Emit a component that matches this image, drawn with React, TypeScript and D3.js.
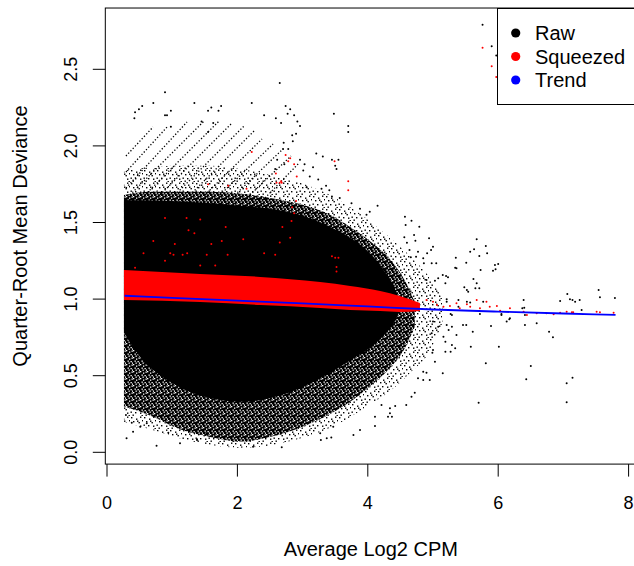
import React from 'react';
import * as d3 from 'd3';

// ---------- axis ticks ----------
const xTicks = [0, 2, 4, 6, 8];
const xTickLabels = ['0', '2', '4', '6', '8'];
const yTicks = [0, 0.5, 1, 1.5, 2, 2.5];
const yTickLabels = ['0.0', '0.5', '1.0', '1.5', '2.0', '2.5'];
const xLim = [-0.026, 8.12];
const yLim = [-0.077, 2.9];

// ---------- raw deviance cloud (too dense to list point by point: envelopes) ----------
const coreX = [0.26, 0.51, 0.97, 1.43, 2.04, 2.65, 2.96, 3.42, 3.73, 4.03, 4.26, 4.42, 4.5];
const coreTop = [1.647, 1.645, 1.64, 1.63, 1.61, 1.58, 1.55, 1.47, 1.4, 1.3, 1.18, 1.06, 0.96];
const coreBot = [0.78, 0.62, 0.46, 0.37, 0.33, 0.37, 0.42, 0.52, 0.6, 0.68, 0.77, 0.86, 0.93];

const innerX = [0.26, 0.66, 1.12, 1.58, 2.04, 2.5, 2.96, 3.42, 3.73, 4.03, 4.34, 4.57, 4.72];
const innerTop = [1.68, 1.7, 1.7, 1.7, 1.69, 1.66, 1.62, 1.55, 1.47, 1.38, 1.26, 1.12, 0.98];
const innerBot = [0.3, 0.24, 0.15, 0.1, 0.07, 0.1, 0.16, 0.25, 0.33, 0.43, 0.55, 0.68, 0.82];

const outerX = [0.26, 0.66, 1.12, 1.58, 2.04, 2.5, 2.96, 3.42, 3.73, 4.03, 4.34, 4.65, 4.95, 5.15];
const outerTop = [1.84, 1.86, 1.87, 1.87, 1.85, 1.81, 1.76, 1.68, 1.6, 1.51, 1.4, 1.28, 1.14, 1.0];
const outerBot = [0.2, 0.15, 0.09, 0.05, 0.03, 0.045, 0.09, 0.16, 0.23, 0.31, 0.4, 0.52, 0.66, 0.85];

// discrete-count streaks in the upper-left: [x0, y0, x1, y1]
const streaks: [number, number, number, number][] = [
  [0.291, 1.934, 0.706, 2.123],
  [0.291, 1.83, 0.936, 2.13],
  [0.291, 1.725, 1.227, 2.156],
  [0.353, 1.68, 1.488, 2.162],
  [0.583, 1.68, 1.718, 2.162],
  [0.813, 1.68, 1.917, 2.149],
  [1.043, 1.68, 2.117, 2.136],
  [1.273, 1.68, 2.255, 2.097],
  [1.503, 1.68, 2.377, 2.045],
  [1.733, 1.68, 2.546, 2.012],
  [1.963, 1.68, 2.699, 1.98],
  [2.193, 1.68, 2.822, 1.934],
  [2.423, 1.66, 2.945, 1.888],
];

// individually visible raw points
const rawPoints: [number, number][] = [
  [0.89, 2.35], [0.71, 2.28], [0.54, 2.26], [0.49, 2.24], [0.43, 2.22], [0.42, 2.18], [0.89, 2.2], [0.98, 2.23],
  [0.92, 2.2], [0.98, 2.125], [1.34, 2.28], [1.45, 2.16], [1.55, 2.23], [1.6, 2.25], [1.63, 2.15], [1.55, 2.09],
  [1.75, 2.26], [1.71, 2.23], [2.22, 2.28], [2.41, 2.2], [2.65, 2.41], [2.74, 2.26], [2.81, 2.24], [2.77, 2.21],
  [2.59, 2.18], [2.67, 2.15], [2.87, 2.2], [2.92, 2.16], [2.96, 2.13], [3.48, 2.21], [3.7, 2.13], [3.7, 2.09],
  [2.9, 2.08], [2.84, 2.07], [2.85, 2.03], [2.71, 2.02], [3.21, 1.95], [3.31, 1.93], [3.45, 1.91], [3.55, 1.91],
  [3.5, 1.87], [3.52, 1.85], [3.03, 1.88], [3.36, 1.74], [3.41, 1.71], [3.88, 1.59], [4.15, 1.61], [3.24, 1.78],
  [3.11, 1.8], [2.61, 1.91], [2.72, 1.88], [2.58, 1.85], [2.7, 1.98], [2.78, 1.98], [3.01, 1.84], [3.16, 1.86],
  [2.96, 1.91], [3.06, 1.73], [3.29, 1.72], [3.45, 1.67], [3.57, 1.66], [3.75, 1.625], [3.98, 1.55], [4.03, 1.57],
  [5.76, 2.79], [5.9, 2.65], [5.97, 2.59],
  [4.57, 1.538], [4.67, 1.512], [4.58, 1.484], [4.79, 1.473], [4.71, 1.418], [4.73, 1.381], [4.94, 1.397], [4.56, 1.403],
  [4.6, 1.368], [5.0, 1.342], [4.97, 1.32], [4.91, 1.299], [4.77, 1.309], [4.85, 1.266], [4.64, 1.32], [4.66, 1.273],
  [4.74, 1.277], [5.05, 1.234], [4.98, 1.234], [4.86, 1.234], [5.67, 1.39], [5.81, 1.347], [5.83, 1.299], [5.71, 1.281],
  [5.63, 1.325], [5.57, 1.309], [5.35, 1.27], [5.51, 1.238], [5.95, 1.223], [6.0, 1.229], [5.96, 1.195], [5.92, 1.185],
  [5.73, 1.19], [5.34, 1.205], [5.36, 1.201], [5.15, 1.157], [5.2, 1.151], [5.08, 1.136], [5.03, 1.12], [4.9, 1.125],
  [5.23, 1.142], [5.19, 1.103], [5.62, 1.131], [5.67, 1.103], [5.65, 1.071], [5.71, 1.071], [5.52, 1.059], [5.54, 1.048],
  [5.48, 1.077], [5.39, 0.994], [5.21, 0.999], [5.21, 0.983], [5.52, 0.983], [5.57, 0.977], [5.77, 0.983], [6.39, 0.994],
  [6.95, 0.988], [7.06, 1.033], [7.1, 0.999], [7.14, 0.994], [7.18, 0.983], [7.25, 0.994], [7.54, 1.059], [7.56, 1.012],
  [7.79, 1.007], [7.28, 0.929], [5.39, 0.95], [5.29, 0.896], [6.4, 0.944], [6.05, 0.903], [6.18, 0.875], [6.37, 0.94],
  [5.0, 0.853], [5.08, 0.82], [4.98, 0.777], [5.21, 0.831], [5.29, 0.82], [5.36, 0.766], [5.24, 0.798], [5.16, 0.755],
  [5.19, 0.722], [5.29, 0.7], [5.34, 0.679], [5.27, 0.657], [5.19, 0.657], [5.0, 0.668], [4.99, 0.65], [5.03, 0.591],
  [5.46, 0.831], [5.51, 0.831], [5.61, 0.787], [5.58, 0.689], [5.89, 0.824], [6.01, 0.689], [5.81, 0.581], [6.13, 0.853],
  [6.17, 0.868], [6.41, 0.831], [6.59, 0.842], [6.78, 0.787], [6.84, 0.751], [6.5, 0.563], [6.43, 0.477], [5.7, 0.324],
  [7.05, 0.45], [7.14, 0.487], [7.05, 0.326], [5.15, 0.516], [4.85, 0.526], [4.9, 0.52], [4.95, 0.472], [4.77, 0.483],
  [4.72, 0.389], [4.59, 0.309], [4.34, 0.255], [4.31, 0.232], [4.42, 0.302], [4.67, 0.363], [4.85, 0.472], [5.27, 0.903],
  [5.72, 0.903], [6.05, 0.896], [6.41, 0.896],
  [2.68, 0.033], [2.24, 0.037], [1.53, 0.124], [3.27, 0.124], [3.37, 0.091], [3.78, 0.113], [3.88, 0.146], [4.11, 0.232],
  [4.21, 0.309], [4.34, 0.287], [4.37, 0.232], [3.47, 0.167], [0.3, 0.091], [0.76, 0.043], [1.12, 0.059], [0.4, 0.134],
  [0.51, 0.167], [0.29, 0.243], [0.38, 0.193], [0.61, 0.189], [0.94, 0.128], [1.38, 0.085], [1.38, 0.08], [3.28, 0.08],
  [3.44, 0.097], [4.11, 0.172],
];

// ---------- squeezed dispersions ----------
const sqzX = [0.26, 1.43, 2.35, 3.27, 3.73, 4.19, 4.49, 4.8];
const sqzTop = [1.19, 1.164, 1.145, 1.112, 1.086, 1.053, 1.02, 0.975];
const sqzBot = [0.994, 0.981, 0.961, 0.942, 0.929, 0.922, 0.916, 0.922];

const sqzPoints: [number, number][] = [
  [5.76, 2.64], [5.9, 2.52], [5.97, 2.45],
  [3.49, 1.9], [3.7, 1.77], [3.7, 1.71], [2.74, 1.94], [2.81, 1.92], [2.78, 1.9], [2.87, 1.88], [2.59, 1.82],
  [2.65, 1.76], [2.67, 1.77], [2.91, 1.8], [2.9, 1.64], [2.84, 1.6],
  [0.89, 1.53], [1.22, 1.53], [1.82, 1.47], [1.43, 1.52], [0.71, 1.38], [1.04, 1.36], [1.6, 1.36], [2.09, 1.39],
  [2.65, 1.37], [2.81, 1.4], [1.25, 1.45], [1.34, 1.43], [1.76, 1.38], [2.22, 1.96], [1.55, 1.75], [1.86, 1.74],
  [2.14, 1.72], [2.6, 1.76], [2.68, 1.76], [0.97, 1.3], [1.23, 1.3], [1.53, 1.29], [1.85, 1.29], [2.41, 1.3],
  [2.58, 1.29], [3.45, 1.28], [3.55, 1.27], [2.83, 1.51], [2.87, 1.56], [2.69, 1.47],
  [0.43, 1.205], [0.89, 1.25], [1.02, 1.29], [1.16, 1.29], [1.43, 1.22], [0.56, 1.3], [1.66, 1.22],
  [3.5, 1.27], [3.52, 1.21], [3.52, 1.18],
  [4.9, 0.994], [5.0, 0.983], [5.06, 0.961], [5.16, 0.95], [5.26, 0.955], [5.36, 0.973], [5.41, 0.94], [5.52, 0.966],
  [5.57, 0.95], [5.67, 0.994], [5.72, 0.94], [5.82, 0.983], [5.87, 0.95], [5.98, 0.955], [6.03, 0.924], [6.18, 0.94],
  [6.39, 0.918], [6.44, 0.896], [6.59, 0.907], [6.74, 0.907], [6.85, 0.901], [6.95, 0.911], [7.05, 0.918], [7.13, 0.914],
  [7.15, 0.914], [7.51, 0.918], [7.56, 0.914], [7.77, 0.911],
];

// ---------- trend ----------
const trendX = [0.27, 1.0, 2.0, 3.0, 4.0, 5.0, 6.0, 7.0, 7.8];
const trendY = [1.022, 1.008, 0.99, 0.972, 0.952, 0.932, 0.918, 0.906, 0.897];

// ---------- legend ----------
const legendLabels = ['Raw', 'Squeezed', 'Trend'];
const legendColors = ['#000000', '#ff0000', '#0000ff'];

const FONT = '"Liberation Sans", Arial, Helvetica, sans-serif';

export default function App() {
  const W = 634;
  const H = 566;
  const x = d3.scaleLinear().domain([0, 8]).range([107, 628.6]);
  const y = d3.scaleLinear().domain([0, 2.5]).range([452.3, 69.3]);

  type Row = { x: number; lo: number; hi: number };
  const band = (xs: number[], hi: number[], lo: number[]): Row[] =>
    xs.map((v, i) => ({ x: v, lo: lo[i], hi: hi[i] }));
  const area = d3
    .area<Row>()
    .x((d) => x(d.x))
    .y0((d) => y(d.lo))
    .y1((d) => y(d.hi))
    .curve(d3.curveMonotoneX);

  const trendLine = d3
    .line<number>()
    .x((d) => x(d))
    .y((_, i) => y(trendY[i]))
    .curve(d3.curveMonotoneX);

  const bx0 = x(xLim[0]);
  const bx1 = x(xLim[1]);
  const by0 = y(yLim[1]);
  const by1 = y(yLim[0]);

  // texture tiles (styling only)
  const sparseDots = [
    [1, 1], [6, 2.5], [10, 0.5], [3, 5], [8.5, 6], [12, 4], [0.5, 8.5], [5, 9], [10, 9.5], [7, 4.5], [2.5, 11.5], [11.5, 12],
  ];
  const whiteHoles = [
    [0, 0], [3, 1.5], [5.5, 0.5], [1.5, 3.5], [4.5, 4], [2.5, 5.5], [6, 5.5],
  ];

  return (
    <svg
      width={W}
      height={H}
      style={{ position: 'absolute', left: 0, top: 0, display: 'block', background: '#fff' }}
      fontFamily={FONT}
    >
      <defs>
        <pattern id="sparse" width={13} height={13} patternUnits="userSpaceOnUse">
          {sparseDots.map((d, i) => (
            <rect key={i} x={d[0]} y={d[1]} width={1.4} height={1.4} fill="#000" />
          ))}
        </pattern>
        <pattern id="dense" width={7} height={7} patternUnits="userSpaceOnUse">
          <rect x={0} y={0} width={7} height={7} fill="#000" />
          {whiteHoles.map((d, i) => (
            <rect key={i} x={d[0]} y={d[1]} width={1.3} height={1.3} fill="#fff" />
          ))}
        </pattern>
        <clipPath id="plotClip">
          <rect x={bx0} y={by0} width={bx1 - bx0} height={by1 - by0} />
        </clipPath>
      </defs>
      <rect x={0} y={0} width={W} height={H} fill="#fff" />

      <g clipPath="url(#plotClip)">
        <path d={area(band(outerX, outerTop, outerBot)) || ''} fill="url(#sparse)" />
        <path d={area(band(innerX, innerTop, innerBot)) || ''} fill="url(#dense)" />
        <path d={area(band(coreX, coreTop, coreBot)) || ''} fill="#000" />
        {streaks.map((s, i) => (
          <line
            key={i}
            x1={x(s[0])}
            y1={y(s[1])}
            x2={x(s[2])}
            y2={y(s[3])}
            stroke="#000"
            strokeWidth={1.3}
            strokeDasharray="1.3 2"
          />
        ))}
        {rawPoints.map((p, i) => (
          <circle key={i} cx={x(p[0])} cy={y(p[1])} r={1} fill="#000" />
        ))}
        <path d={area(band(sqzX, sqzTop, sqzBot)) || ''} fill="#ff0000" />
        {sqzPoints.map((p, i) => (
          <circle key={i} cx={x(p[0])} cy={y(p[1])} r={1} fill="#ff0000" />
        ))}
        <path d={trendLine(trendX) || ''} fill="none" stroke="#0000ff" strokeWidth={1.8} />
      </g>

      {/* box */}
      <rect x={bx0} y={by0} width={bx1 - bx0} height={by1 - by0} fill="none" stroke="#000" strokeWidth={1} />

      {/* x axis */}
      {xTicks.map((t, i) => (
        <g key={t}>
          <line x1={x(t)} x2={x(t)} y1={by1} y2={by1 + 12.5} stroke="#000" />
          <text x={x(t)} y={509} textAnchor="middle" fontSize={18}>
            {xTickLabels[i]}
          </text>
        </g>
      ))}
      {/* y axis */}
      {yTicks.map((t, i) => (
        <g key={t}>
          <line x1={bx0 - 12.5} x2={bx0} y1={y(t)} y2={y(t)} stroke="#000" />
          <text
            transform={`translate(77,${y(t)}) rotate(-90)`}
            textAnchor="middle"
            fontSize={18}
          >
            {yTickLabels[i]}
          </text>
        </g>
      ))}

      <text x={(bx0 + bx1) / 2} y={556} textAnchor="middle" fontSize={20}>
        Average Log2 CPM
      </text>
      <text
        transform={`translate(27,${(by0 + by1) / 2}) rotate(-90)`}
        textAnchor="middle"
        fontSize={20}
      >
        Quarter-Root Mean Deviance
      </text>

      {/* legend */}
      <rect x={497.5} y={8.5} width={200} height={96} fill="#fff" stroke="#000" strokeWidth={1} />
      {legendLabels.map((l, i) => (
        <g key={l}>
          <circle cx={515.7} cy={33 + i * 23.5} r={4.6} fill={legendColors[i]} />
          <text x={535} y={40 + i * 23.5} fontSize={20}>
            {l}
          </text>
        </g>
      ))}
    </svg>
  );
}
